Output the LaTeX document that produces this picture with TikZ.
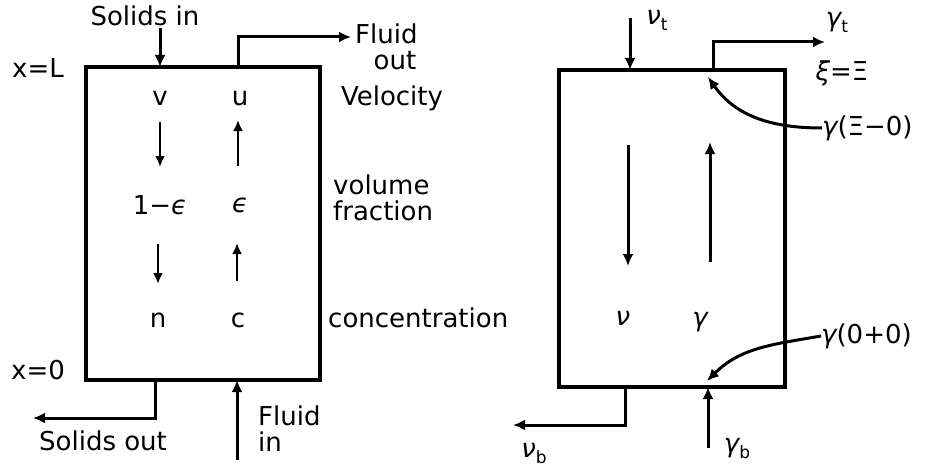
\documentclass[tikz,border=0pt]{standalone}
\usepackage{fontspec}
\setmainfont{DejaVu Sans}
\usetikzlibrary{arrows.meta}
\newcommand{\gk}[1]{{\itshape #1}}
\newcommand{\sbs}[1]{\raisebox{-6pt}{\fontsize{17}{17}\selectfont #1}}
\begin{document}
\begin{tikzpicture}[x=1pt,y=-1pt,
  lbl/.style={inner sep=0pt,font=\fontsize{26}{28}\selectfont},
  wall/.style={line width=3.2pt,line join=miter},
  flow/.style={line width=3pt,-{Latex[length=12pt,width=11pt]}},
  thin flow/.style={line width=2.6pt,-{Latex[length=11pt,width=10pt]}}]
\useasboundingbox (0,0) rectangle (925,468);
% ---------- left box ----------
\coordinate (Ltl) at (86,67);
\coordinate (Lbr) at (320,380);
\draw[wall] (Ltl) rectangle (Lbr);
\coordinate (Lin) at (160,67);
\coordinate (Lout) at (238,67);
\coordinate (Lsout) at (155,380);
\coordinate (Lfin) at (237,380);
\node[lbl] (solidsin) at (145,16) {Solids in};
\coordinate (solidsinstart) at (160,28);
\draw[flow] (solidsinstart) -- (Lin);
\node[lbl,anchor=west] (fluidout) at (355,34) {Fluid};
\node[lbl] (fluidout2) at (395,61) {out};
\coordinate (foc) at (238,37);
\coordinate (foend) at (351,37);
\draw[flow] (Lout) -- (foc) -- (foend);
\node[lbl] (xL) at (38,68) {x=L};
\node[lbl] (xO) at (38,370) {x=0};
\node[lbl] (v) at (160,98) {v};
\node[lbl] (u) at (240,98) {u};
\node[lbl] (vel) at (392,98) {Velocity};
\node[lbl] (onemeps) at (160,205) {1−\gk{ϵ}};
\node[lbl] (eps) at (240,205) {\gk{ϵ}};
\node[lbl,anchor=west] (volume) at (333,185) {volume};
\node[lbl,anchor=west] (fraction) at (333,211) {fraction};
\node[lbl] (n) at (158,320) {n};
\node[lbl] (c) at (238,320) {c};
\node[lbl,anchor=west] (conc) at (328,318) {concentration};
\coordinate (a1s) at (160,122); \coordinate (a1e) at (160,167);
\coordinate (a2s) at (238,166); \coordinate (a2e) at (238,120);
\coordinate (a3s) at (158,244); \coordinate (a3e) at (158,284);
\coordinate (a4s) at (237,281); \coordinate (a4e) at (237,243);
\draw[thin flow] (a1s) -- (a1e);
\draw[thin flow] (a2s) -- (a2e);
\draw[thin flow] (a3s) -- (a3e);
\draw[thin flow] (a4s) -- (a4e);
% bottom
\coordinate (soc) at (155,418);
\coordinate (soend) at (33,418);
\draw[flow] (Lsout) -- (soc) -- (soend);
\node[lbl] (solidsout) at (103,441) {Solids out};
\coordinate (finstart) at (237,460);
\draw[flow] (finstart) -- (Lfin);
\node[lbl,anchor=west] (fluidin) at (258,416) {Fluid};
\node[lbl,anchor=west] (fluidin2) at (258,442) {in};
% ---------- right box ----------
\coordinate (Rtl) at (559,70);
\coordinate (Rbr) at (785,387);
\draw[wall] (Rtl) rectangle (Rbr);
\coordinate (Rin) at (630,70);
\coordinate (Rout) at (713,70);
\coordinate (Rbout) at (625,387);
\coordinate (Rbin) at (708,387);
\node[lbl] (nut) at (657,20) {\gk{ν}\sbs{t}};
\coordinate (nutstart) at (630,18);
\draw[flow] (nutstart) -- (Rin);
\node[lbl] (gt) at (837,22) {\gk{γ}\sbs{t}};
\coordinate (gtc) at (713,42);
\coordinate (gtend) at (825,42);
\draw[flow] (Rout) -- (gtc) -- (gtend);
\node[lbl] (xiXi) at (842,73) {\gk{ξ}=Ξ};
\node[lbl,anchor=west] (gXi) at (822,128) {\gk{γ}(Ξ−0)};
\coordinate (gXitarget) at (708,77);
\draw[flow] (gXi.west) to[out=180,in=-55] (gXitarget);
\node[lbl] (nu) at (623,318) {\gk{ν}};
\node[lbl] (ga) at (700,322) {\gk{γ}};
\coordinate (dnA) at (628,145);
\coordinate (dnB) at (628,266);
\coordinate (upA) at (710,262);
\coordinate (upB) at (710,142);
\draw[flow] (dnA) -- (dnB);
\draw[flow] (upA) -- (upB);
\node[lbl,anchor=west] (g00) at (821,336) {\gk{γ}(0+0)};
\coordinate (g00target) at (707,381);
\draw[flow] (g00.west) to[out=190,in=45] (g00target);
\coordinate (nubc) at (625,425);
\coordinate (nubend) at (513,425);
\draw[flow] (Rbout) -- (nubc) -- (nubend);
\node[lbl] (nub) at (534,454) {\gk{ν}\sbs{b}};
\coordinate (gbstart) at (708,448);
\draw[flow] (gbstart) -- (Rbin);
\node[lbl] (gb) at (737,449) {\gk{γ}\sbs{b}};
\end{tikzpicture}
\end{document}
